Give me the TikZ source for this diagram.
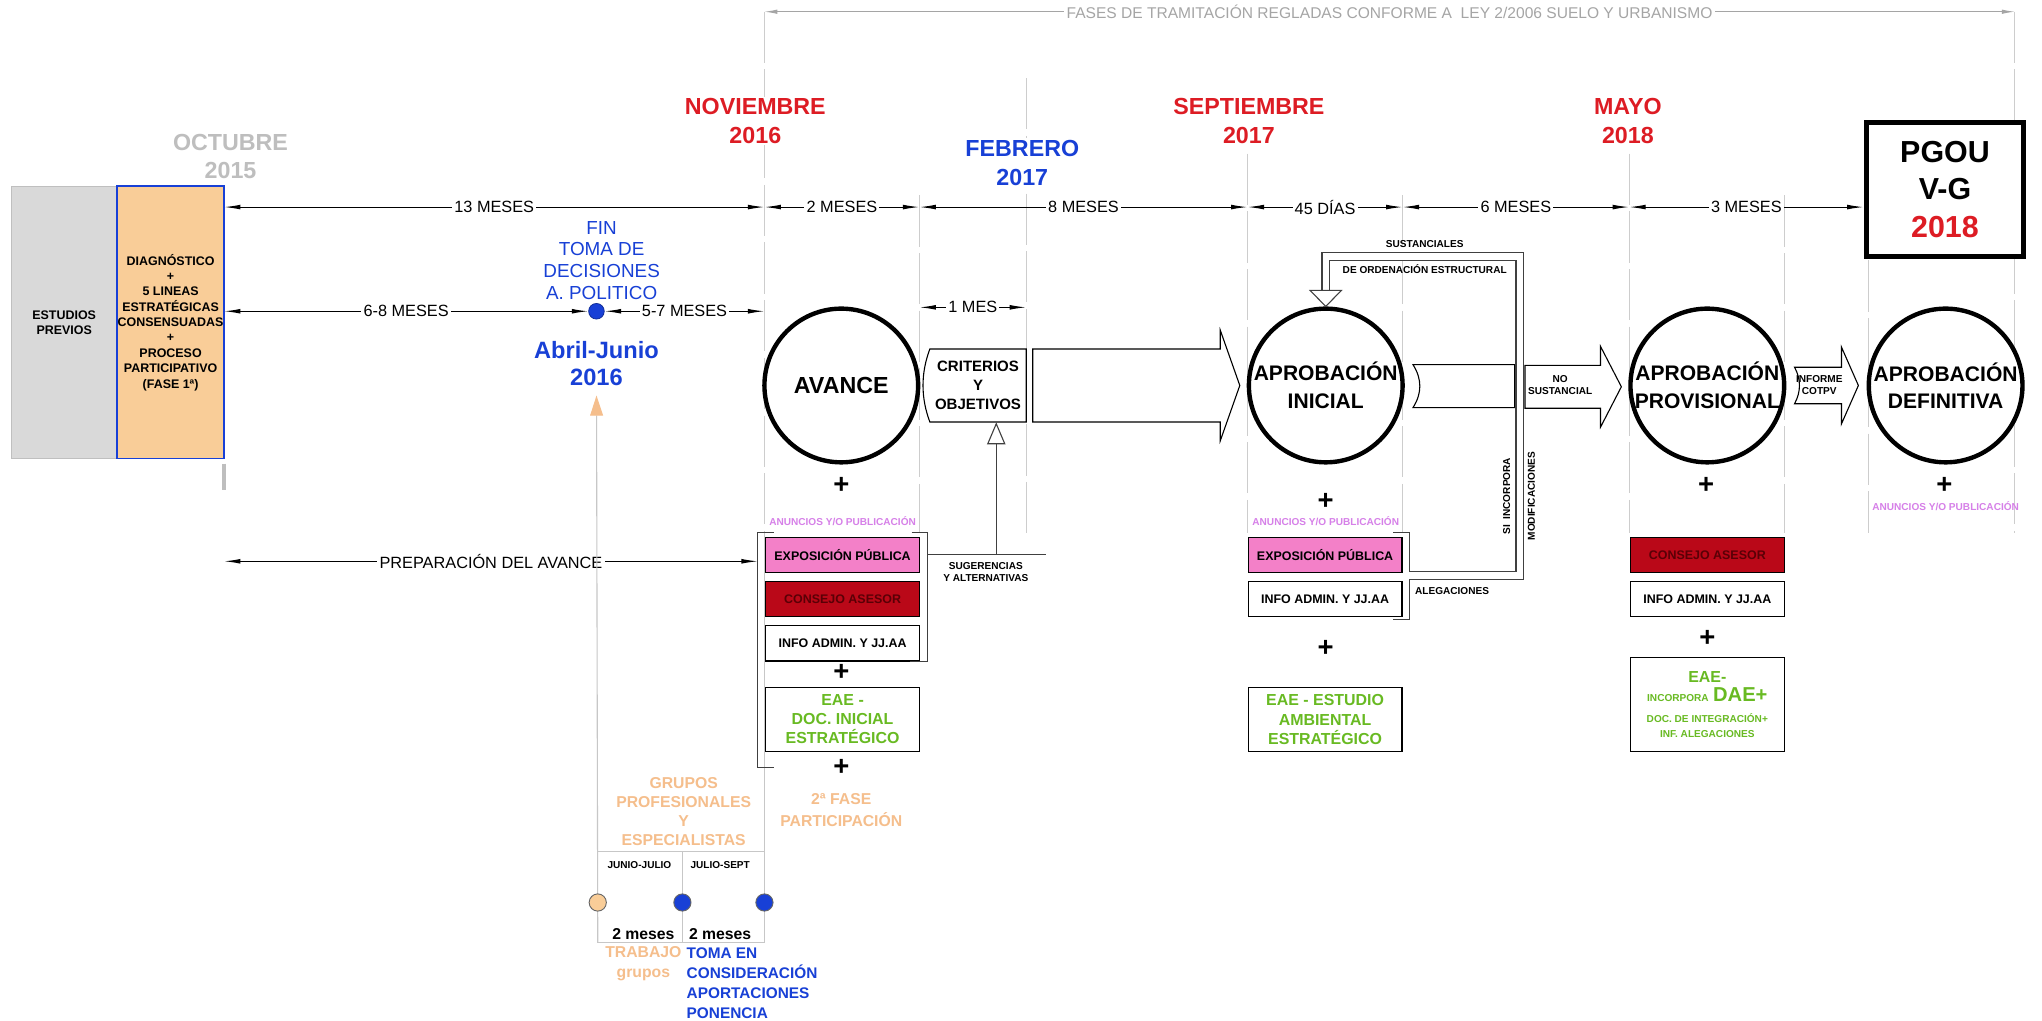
\documentclass[tikz,border=0pt]{standalone}
\usepackage{fontspec}
\setmainfont{Liberation Sans}
\usetikzlibrary{arrows.meta,positioning}
\definecolor{rojofecha}{RGB}{221,28,36}
\definecolor{azulfecha}{RGB}{24,64,214}
\definecolor{grisguia}{RGB}{205,205,205}
\definecolor{grisfecha}{RGB}{190,190,190}
\definecolor{grisbanda}{RGB}{165,165,165}
\definecolor{grisprevio}{RGB}{217,217,217}
\definecolor{naranja}{RGB}{249,205,152}
\definecolor{naranjatxt}{RGB}{245,190,140}
\definecolor{rosa}{RGB}{243,128,200}
\definecolor{violeta}{RGB}{214,128,232}
\definecolor{granate}{RGB}{186,8,24}
\definecolor{granatetxt}{RGB}{90,0,6}
\definecolor{verde}{RGB}{104,186,34}
\newcommand\tam[2]{\fontsize{#1}{#2}\selectfont}
\tikzstyle{guia} = [grisguia, line width=0.5pt, dash pattern=on 28pt off 3.5pt]
\tikzstyle{cota} = [{Latex[length=9pt,width=2.6pt]}-{Latex[length=9pt,width=2.6pt]}, line width=0.6pt]
\tikzstyle{cotatxt} = [fill=white, inner sep=1.2pt, font=\tam{8.9}{10}]
\tikzstyle{fecha} = [fill=white, inner sep=1pt, align=center, font=\bfseries\tam{12.7}{15.6}]
\tikzstyle{fase} = [draw, circle, fill=white, line width=2.4pt, minimum size=2.95cm,
    inner sep=0pt, align=center, font=\bfseries\tam{11.5}{15}]
\tikzstyle{cajon} = [draw, fill=white, line width=0.7pt, minimum width=2.95cm,
    minimum height=0.675cm, inner sep=1pt, align=center, font=\bfseries\tam{6.8}{8.2}]
\tikzstyle{eae} = [cajon, text=verde, font=\bfseries\tam{8.7}{10.4}, minimum height=1.225cm]
\tikzstyle{mas} = [inner sep=0pt, font=\bfseries\tam{15}{15}]
\tikzstyle{anuncio} = [inner sep=0pt, text=violeta, font=\bfseries\tam{5.5}{6.5}]
\tikzstyle{nota} = [inner sep=1pt, align=center, font=\bfseries\tam{5.5}{6.6}]
\tikzstyle{corchete} = [line width=0.6pt, black!75]
\tikzstyle{marco} = [line width=0.6pt, black!22]
\tikzstyle{bola} = [circle, draw=black!60, line width=0.5pt, minimum size=0.33cm, inner sep=0pt]
\tikzstyle{grupo} = [align=center, font=\bfseries\tam{8.6}{10.4}]
\newcommand\flechabloque[7]{
    \draw[line width=0.6pt, fill=white] (#1,{#4-#5}) -- (#2,{#4-#5}) -- (#2,{#4-#6}) -- (#3,#4)
      -- (#2,{#4+#6}) -- (#2,{#4+#5}) -- (#1,{#4+#5})
      .. controls ({#1+#7},{#4+#5/3}) and ({#1+#7},{#4-#5/3}) .. (#1,{#4-#5}) -- cycle;
}
\newcommand\cajacurva[5]{
    \draw[line width=0.6pt, fill=white] (#1,{#3-#4}) -- (#2,{#3-#4}) -- (#2,{#3+#4}) -- (#1,{#3+#4})
      .. controls ({#1+#5},{#3+#4/3}) and ({#1+#5},{#3-#4/3}) .. (#1,{#3-#4}) -- cycle;
}
\begin{document}
\begin{tikzpicture}[x=0.025cm, y=-0.025cm]
\fill[white] (0,0) rectangle (1568,784);
\useasboundingbox (0,0) rectangle (1568,784);

\foreach \x/\desde in {706/150, 788/60, 958/118, 1077/150, 1251/118, 1370/150, 1435/200}
    \draw[guia] (\x,\desde) -- (\x,409);
\draw[guia] (587,9) -- (587,409);
\draw[guia] (1547,9) -- (1547,409);
\draw[marco] (587,409) -- (587,724);

\coordinate (fa) at (587,9);
\coordinate (fb) at (1547,9);
\draw[grisbanda, line width=0.5pt, {Latex[length=7pt,width=2.4pt]}-{Latex[length=7pt,width=2.4pt]}] (fa) --
    node[fill=white, inner sep=1.5pt, text=grisbanda, font=\tam{8.5}{10}] (banda)
    {FASES DE TRAMITACIÓN REGLADAS CONFORME A~ LEY 2/2006 SUELO Y URBANISMO} (fb);

\node[fill=grisprevio, draw=black!25, minimum width=2.035cm, minimum height=5.225cm,
    font=\bfseries\tam{6.8}{8.2}, align=center] (previos) at (49.3,247.5) {ESTUDIOS\\PREVIOS};
\node[fill=naranja, draw=azulfecha, line width=1pt, minimum width=2.05cm, minimum height=5.225cm,
    inner sep=0pt, font=\bfseries\tam{6.8}{8.4}, align=center] (diagnostico) at (131,247.5)
    {DIAGNÓSTICO\\+\\5 LINEAS\\ESTRATÉGICAS\\CONSENSUADAS\\+\\PROCESO\\PARTICIPATIVO\\(FASE 1ª)};
\draw[grisfecha, line width=2pt] (172,356) -- (172,376);

\node[fecha, text=grisfecha] (octubre) at (177,120) {OCTUBRE\\2015};
\node[fecha, text=rojofecha] (noviembre) at (580,93) {NOVIEMBRE\\2016};
\node[fecha, text=azulfecha] (febrero) at (785,125) {FEBRERO\\2017};
\node[fecha, text=rojofecha] (septiembre) at (959,93) {SEPTIEMBRE\\2017};
\node[fecha, text=rojofecha] (mayo) at (1250,93) {MAYO\\2018};

\node[draw, line width=2.8pt, fill=white, minimum width=3.025cm, minimum height=2.575cm,
    align=center, font=\bfseries\tam{16.6}{20.3}] (pgou) at (1493.5,145.5)
    {PGOU\\V-G\\\textcolor{rojofecha}{2018}};

\node[fase, font=\bfseries\tam{12.7}{15}] (avance) at (646,296) {AVANCE};
\node[fase] (inicial) at (1018,296) {APROBACIÓN\\INICIAL};
\node[fase] (provisional) at (1311,296) {APROBACIÓN\\PROVISIONAL};
\node[fase] (definitiva) at (1494,296) {APROBACIÓN\\DEFINITIVA};

\cajacurva{714}{788}{296}{28}{-7}
\node[align=center, font=\bfseries\tam{8.2}{10.3}, minimum width=1.85cm, minimum height=1.4cm,
    inner sep=0pt] (criterios) at (751,296) {CRITERIOS\\Y\\OBJETIVOS};
\flechabloque{793}{937}{952}{296}{28}{42.5}{0}
\cajacurva{1085}{1163}{296.5}{16.5}{7}
\flechabloque{1171}{1229}{1245}{297}{16.5}{31}{0}
\node[nota] (nosust) at (1198,296) {NO\\SUSTANCIAL};
\flechabloque{1378}{1414}{1427}{296}{14}{29.5}{5}
\node[nota] (cotpv) at (1397,296) {INFORME\\COTPV};

\coordinate (o1) at (172,159);
\coordinate (n1) at (587,159);
\coordinate (c1) at (706,159);
\coordinate (s1) at (958,159);
\coordinate (i1) at (1077,159);
\coordinate (m1) at (1251,159);
\coordinate (p1) at (pgou.west |- m1);
\draw[cota] (o1) -- node[cotatxt] (trece) {13 MESES} (n1);
\draw[cota] (n1) -- node[cotatxt] (dos) {2 MESES} (c1);
\draw[cota] (c1) -- node[cotatxt] (ocho) {8 MESES} (s1);
\draw[cota] (s1) -- node[cotatxt] (dias) {45 DÍAS} (i1);
\draw[cota] (i1) -- node[cotatxt] (seis) {6 MESES} (m1);
\draw[cota] (m1) -- node[cotatxt] (tres) {3 MESES} (p1);

\coordinate (o2) at (172,239);
\coordinate (n2) at (587,239);
\node[circle, fill=azulfecha, draw=azulfecha!70!black, minimum size=0.3cm, inner sep=0pt] (fin) at (458,239) {};
\draw[cota] (o2) -- node[cotatxt] (seisocho) {6-8 MESES} (fin);
\draw[cota] (fin) -- node[cotatxt] (cincosiete) {5-7 MESES} (n2);
\coordinate (c3) at (706,236);
\coordinate (f3) at (788,236);
\draw[cota] (c3) -- node[cotatxt] (unmes) {1 MES} (f3);
\coordinate (o4) at (172,431);
\coordinate (a4) at (582,431);
\draw[cota] (o4) -- node[cotatxt] (preparacion) {PREPARACIÓN DEL AVANCE} (a4);

\node[align=center, text=azulfecha, font=\tam{10.3}{11.9}] (toma) at (462,200) {FIN\\TOMA DE\\DECISIONES\\A. POLITICO};
\node[align=center, text=azulfecha, font=\bfseries\tam{12.9}{14.6}] (abril) at (458,279) {Abril-Junio\\2016};

\node[mas] (mas1) at (646,373) {+};
\node[anuncio] (anuncio1) at (647,400) {ANUNCIOS Y/O PUBLICACIÓN};
\node[cajon, fill=rosa] (expo1) at (647,426) {EXPOSICIÓN PÚBLICA};
\node[cajon, fill=granate, text=granatetxt, below=0.15cm of expo1] (consejo1) {CONSEJO ASESOR};
\node[cajon, below=0.15cm of consejo1] (info1) {INFO ADMIN. Y JJ.AA};
\node[mas] (mas2) at (646,516) {+};
\node[eae] (eae1) at (647,552.5) {EAE -\\DOC. INICIAL\\ESTRATÉGICO};
\node[mas] (mas3) at (646,589) {+};
\node[grupo, text=naranjatxt, font=\bfseries\tam{8.6}{12}] (fase2) at (646,622) {2ª FASE\\PARTICIPACIÓN};
\draw[corchete] (700,409) -| (712,508) -- (699,508);
\draw[corchete] (594,409) -| (582,589) -- (594,589);

\coordinate (sugA) at (712,426);
\coordinate (sugB) at (803,426);
\coordinate (sug) at (765,426);
\draw[corchete] (sugA) -- (sugB);
\draw[corchete, -{Triangle[open, length=12pt, width=10pt]}] (sug) -- (sug |- criterios.south);
\node[nota] (sugerencias) at (757,439) {SUGERENCIAS\\Y ALTERNATIVAS};

\node[mas] (mas4) at (1018,385) {+};
\node[anuncio] (anuncio2) at (1018,400) {ANUNCIOS Y/O PUBLICACIÓN};
\node[cajon, fill=rosa] (expo2) at (1017.5,426) {EXPOSICIÓN PÚBLICA};
\node[cajon, below=0.15cm of expo2] (info2) {INFO ADMIN. Y JJ.AA};
\node[mas] (mas5) at (1018,498) {+};
\node[eae] (eae2) at (1017.5,552.5) {EAE - ESTUDIO\\AMBIENTAL\\ESTRATÉGICO};
\draw[corchete] (1070,409) -| (1082,476) -- (1070,476);

\coordinate (aleg) at (1082,442);
\coordinate (sustA) at (1018,223);
\draw[black!75, line width=0.6pt, double distance=3.5pt] (aleg) -| (1167,197) -| (sustA);
\draw[black!75, line width=0.6pt, fill=white] (sustA) ++(-12,0) -- ++(24,0) -- (inicial.north) -- cycle;
\node[nota] (sustanciales) at (1094,187) {SUSTANCIALES};
\node[nota] (ordenacion) at (1094,207) {DE ORDENACIÓN ESTRUCTURAL};
\node[nota, rotate=90] (incorpora) at (1157,381) {SI\ \ INCORPORA};
\node[nota, rotate=90] (modificaciones) at (1176,381) {MODIFICACIONES};
\node[nota] (alegaciones) at (1115,454) {ALEGACIONES};

\node[mas] (mas6) at (1310,373) {+};
\node[cajon, fill=granate, text=granatetxt] (consejo3) at (1311,426) {CONSEJO ASESOR};
\node[cajon, below=0.15cm of consejo3] (info3) {INFO ADMIN. Y JJ.AA};
\node[mas] (mas7) at (1311,490) {+};
\node[eae, minimum height=1.8cm] (eae3) at (1311,541)
    {EAE-\\{\tam{5.5}{6}INCORPORA} {\tam{11}{12}DAE+}\\[1pt]{\tam{5.5}{6.6}DOC. DE INTEGRACIÓN+}\\[-2pt]{\tam{5.5}{6.6}INF. ALEGACIONES}};

\node[mas] (mas8) at (1493,373) {+};
\node[anuncio] (anuncio3) at (1494,389) {ANUNCIOS Y/O PUBLICACIÓN};

\coordinate (g0) at (459,724);
\draw[marco] (459,654) -- (587,654);
\draw[marco] (459,724) -- (587,724);
\draw[marco] (524,654) -- (524,724);
\draw[marco, shorten >=2pt, -{Triangle[length=11pt, width=7pt, color=naranjatxt]}] (g0) -- (abril);
\node[grupo, text=naranjatxt] (grupos) at (525,623) {GRUPOS\\PROFESIONALES\\Y\\ESPECIALISTAS};
\node[nota] (junio) at (491,664) {JUNIO-JULIO};
\node[nota] (julio) at (553,664) {JULIO-SEPT};
\node[bola, fill=naranja] (bola1) at (459,693) {};
\node[bola, fill=azulfecha] (bola2) at (524,693) {};
\node[bola, fill=azulfecha] (bola3) at (587,693) {};
\node[font=\bfseries\tam{8.6}{10}] (meses1) at (494,717) {2 meses};
\node[font=\bfseries\tam{8.6}{10}] (meses2) at (553,717) {2 meses};
\node[grupo, text=naranjatxt, font=\bfseries\tam{8.6}{10.7}] (trabajo) at (494,740) {TRABAJO\\grupos};
\node[grupo, text=azulfecha, align=left, anchor=west, inner sep=0pt, font=\bfseries\tam{8.4}{10.9}] (ponencia) at (527,755)
    {TOMA EN\\CONSIDERACIÓN\\APORTACIONES\\PONENCIA};
\end{tikzpicture}
\end{document}
